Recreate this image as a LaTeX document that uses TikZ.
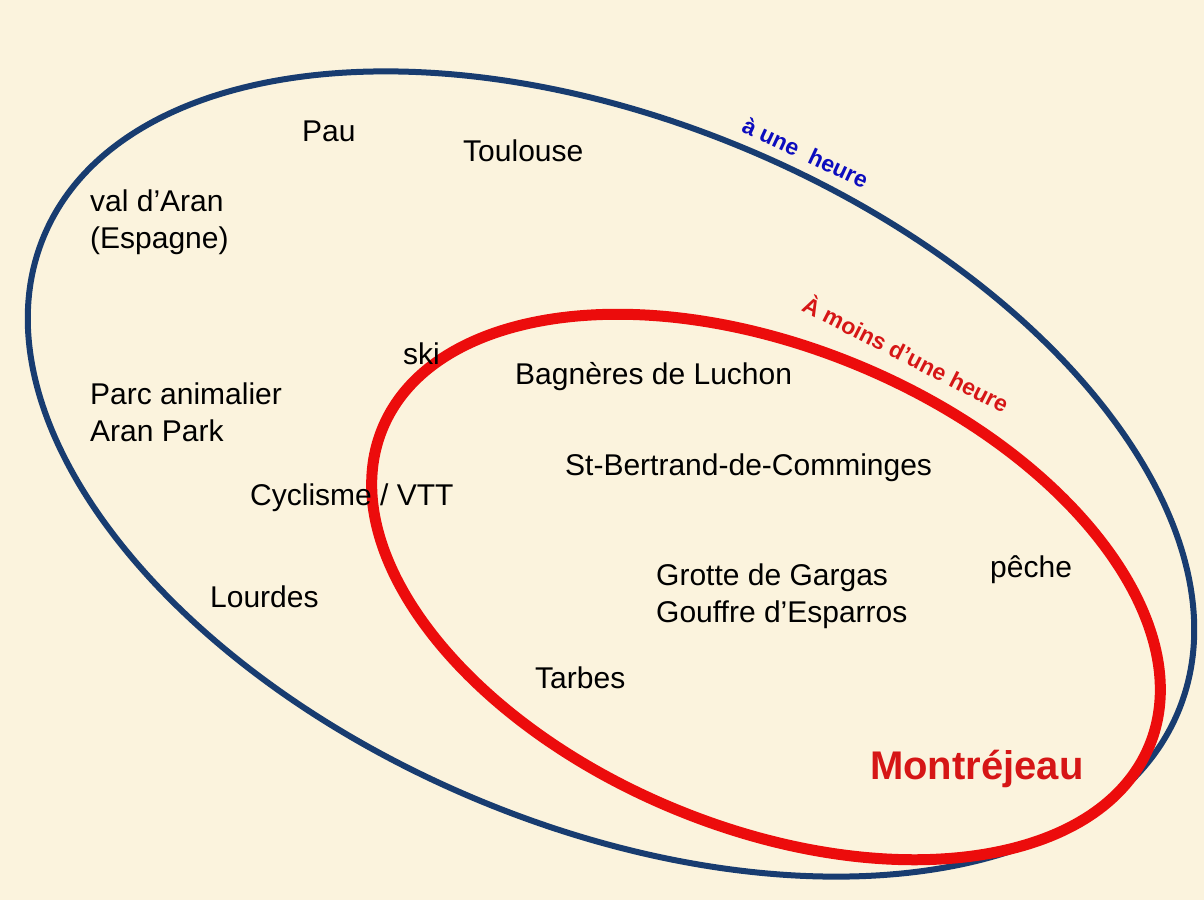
\documentclass[tikz,border=0pt]{standalone}
\usepackage{fontspec}
\setmainfont{Liberation Sans}
\definecolor{parchment}{RGB}{251,243,221}
\definecolor{hourblue}{RGB}{24,60,112}
\definecolor{hourred}{RGB}{236,12,12}
\definecolor{labelblue}{RGB}{12,12,190}
\definecolor{labelred}{RGB}{214,22,22}
\usetikzlibrary{positioning}

\tikzset{
  place/.style={anchor=base west, inner sep=0pt, align=left, font=\fontsize{30}{37}\selectfont},
  ringlabel/.style={anchor=base, inner sep=0pt, font=\bfseries\fontsize{23}{23}\selectfont}
}

\begin{document}
\begin{tikzpicture}[x=1pt,y=1pt]
  \useasboundingbox (0,0) rectangle (1204,-900);
  % background
  \fill[parchment] (0,0) rectangle (1204,-900);

  % one hour ring
  \draw[hourblue, line width=6pt, rotate around={-22.8:(611,-474)}] (611,-474) ellipse [x radius=615, y radius=352];
  % less than one hour ring
  \draw[hourred, line width=11pt, rotate around={-22.5:(766,-587)}] (766,-587) ellipse [x radius=415, y radius=240];

  % ring labels
  \node[ringlabel, text=labelblue, rotate=-25] (oneHour) at (802,-160) {à une~~heure};
  \node[ringlabel, text=labelred, rotate=-27] (lessHour) at (902,-362) {À moins d’une heure};

  % places (two-line nodes sit on their last line)
  \node[place] (pau) at (302,-141) {Pau};
  \node[place] (toulouse) at (463,-161) {Toulouse};
  \node[place] (aran) at (90,-248) {val d’Aran\\(Espagne)};
  \node[place] (ski) at (403,-364) {ski};
  \node[place] (luchon) at (515,-384) {Bagnères de Luchon};
  \node[place] (parc) at (90,-441) {Parc animalier\\Aran Park};
  \node[place] (bertrand) at (565,-475) {St-Bertrand-de-Comminges};
  \node[place] (velo) at (250,-505) {Cyclisme / VTT};
  \node[place] (grotte) at (656,-622) {Grotte de Gargas\\Gouffre d’Esparros};
  \node[place] (peche) at (990,-577) {pêche};
  \node[place] (lourdes) at (210,-607) {Lourdes};
  \node[place] (tarbes) at (535,-688) {Tarbes};

  % home town
  \node[anchor=base west, inner sep=0pt, font=\bfseries\fontsize{40}{40}\selectfont, text=labelred] (montrejeau) at (870,-779) {Montréjeau};
\end{tikzpicture}
\end{document}
